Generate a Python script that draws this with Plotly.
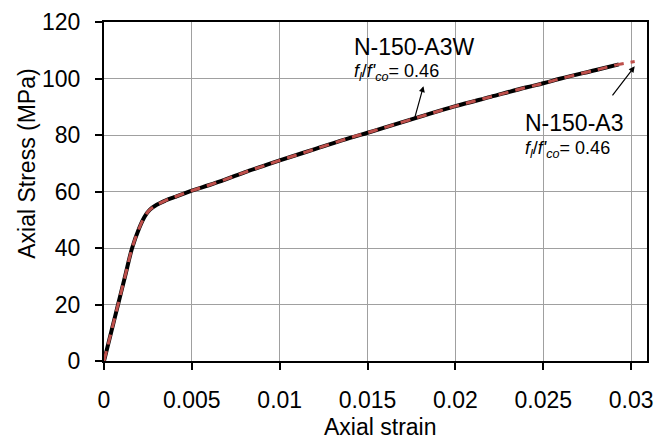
import plotly.graph_objects as go

# --- data ---
strain_a3w = [0, 0.0004, 0.0008, 0.0012, 0.0016, 0.002, 0.0023, 0.0026, 0.003, 0.0035,
              0.004, 0.005, 0.006, 0.007, 0.008, 0.009, 0.010, 0.012, 0.014, 0.015,
              0.016, 0.018, 0.020, 0.022, 0.024, 0.025, 0.026, 0.028, 0.0293]
stress_a3w = [0, 10, 20, 30, 40, 47, 51, 53.5, 55.3, 56.8,
              58, 60.3, 62.3, 64.5, 66.8, 68.9, 71, 75, 79, 80.8,
              82.7, 86.5, 90.2, 93.5, 96.8, 98.3, 100, 103, 105]

strain_a3 = [0, 0.0004, 0.0008, 0.0012, 0.0016, 0.002, 0.0023, 0.0026, 0.003, 0.0035,
             0.004, 0.005, 0.006, 0.007, 0.008, 0.009, 0.010, 0.012, 0.014, 0.015,
             0.016, 0.018, 0.020, 0.022, 0.024, 0.025, 0.026, 0.028, 0.0293, 0.0302]
stress_a3 = [0, 10, 20, 30, 40, 47, 51, 53.5, 55.3, 56.8,
             58, 60.3, 62.3, 64.5, 66.8, 68.9, 71, 75, 79, 80.8,
             82.7, 86.5, 90.2, 93.5, 96.8, 98.3, 100, 103, 105, 106]

x_ticks = [0, 0.005, 0.01, 0.015, 0.02, 0.025, 0.03]
x_ticklabels = ["0", "0.005", "0.01", "0.015", "0.02", "0.025", "0.03"]
y_ticks = [0, 20, 40, 60, 80, 100, 120]

label_a3w = "N-150-A3W"
label_a3 = "N-150-A3"
ratio_text = "<i>f</i><sub><i>l</i></sub>/<i>f'</i><sub><i>co</i></sub>= 0.46"
x_title = "Axial strain"
y_title = "Axial Stress (MPa)"

FONT = "Liberation Sans, Arial, sans-serif"

W, H = 662, 443
L, R, T, B = 104, 9, 17, 82
pw, ph = W - L - R, H - T - B

fig = go.Figure()
fig.add_trace(go.Scatter(x=strain_a3w, y=stress_a3w, mode="lines", name=label_a3w,
                         line=dict(color="black", width=4), line_shape="spline"))
fig.add_trace(go.Scatter(x=strain_a3, y=stress_a3, mode="lines", name=label_a3,
                         line=dict(color="#BE4F4B", width=3, dash="10px,7px"),
                         line_shape="spline"))

# arrows
fig.add_annotation(x=0.01818, y=97.3, ax=0.01767, ay=85.8, xref="x", yref="y",
                   axref="x", ayref="y", text="", showarrow=True, arrowhead=2,
                   arrowsize=1, arrowwidth=1.2, arrowcolor="black")
fig.add_annotation(x=0.0302, y=104.3, ax=0.02887, ay=93.5, xref="x", yref="y",
                   axref="x", ayref="y", text="", showarrow=True, arrowhead=2,
                   arrowsize=1, arrowwidth=1.2, arrowcolor="black")

# labels
fig.add_annotation(x=0.01413, y=111.3, xref="x", yref="y", text=label_a3w, showarrow=False,
                   xanchor="left", yanchor="middle", font=dict(size=23, color="black", family=FONT))
fig.add_annotation(x=0.01413, y=102.3, xref="x", yref="y", text=ratio_text, showarrow=False,
                   xanchor="left", yanchor="middle", font=dict(size=18, color="black", family=FONT))
fig.add_annotation(x=0.02386, y=84.1, xref="x", yref="y", text=label_a3, showarrow=False,
                   xanchor="left", yanchor="middle", font=dict(size=23, color="black", family=FONT))
fig.add_annotation(x=0.02386, y=75.0, xref="x", yref="y", text=ratio_text, showarrow=False,
                   xanchor="left", yanchor="middle", font=dict(size=18, color="black", family=FONT))

# axis titles (paper coordinates)
fig.add_annotation(x=(383 - L) / pw, y=(H - B - 428) / ph, xref="paper", yref="paper",
                   text=x_title, showarrow=False, xanchor="center", yanchor="middle",
                   font=dict(size=23, color="black", family=FONT))
fig.add_annotation(x=(26 - L) / pw, y=(H - B - 161) / ph, xref="paper", yref="paper",
                   text=y_title, textangle=-90, showarrow=False,
                   xanchor="center", yanchor="middle",
                   font=dict(size=23, color="black", family=FONT))

axis_common = dict(showline=True, linecolor="black", linewidth=2, mirror=True,
                   ticks="outside", ticklen=7, tickwidth=2, tickcolor="black",
                   showgrid=True, gridcolor="#A0A0A0", gridwidth=1, zeroline=False,
                   tickfont=dict(size=23, color="black", family=FONT))

fig.update_xaxes(range=[0, 0.0309], tickvals=x_ticks, ticktext=x_ticklabels,
                 ticklabelstandoff=10, **axis_common)
fig.update_yaxes(range=[0, 120], tickvals=y_ticks, ticklabelstandoff=10, **axis_common)

fig.update_layout(width=W, height=H, margin=dict(l=L, r=R, t=T, b=B),
                  plot_bgcolor="white", paper_bgcolor="white", showlegend=False,
                  font=dict(family=FONT, color="black"))

fig.write_html("out.html", config={"displayModeBar": False},
               post_script="document.body.style.margin='0';document.body.style.padding='0';"
                           "document.body.style.overflow='hidden';")
